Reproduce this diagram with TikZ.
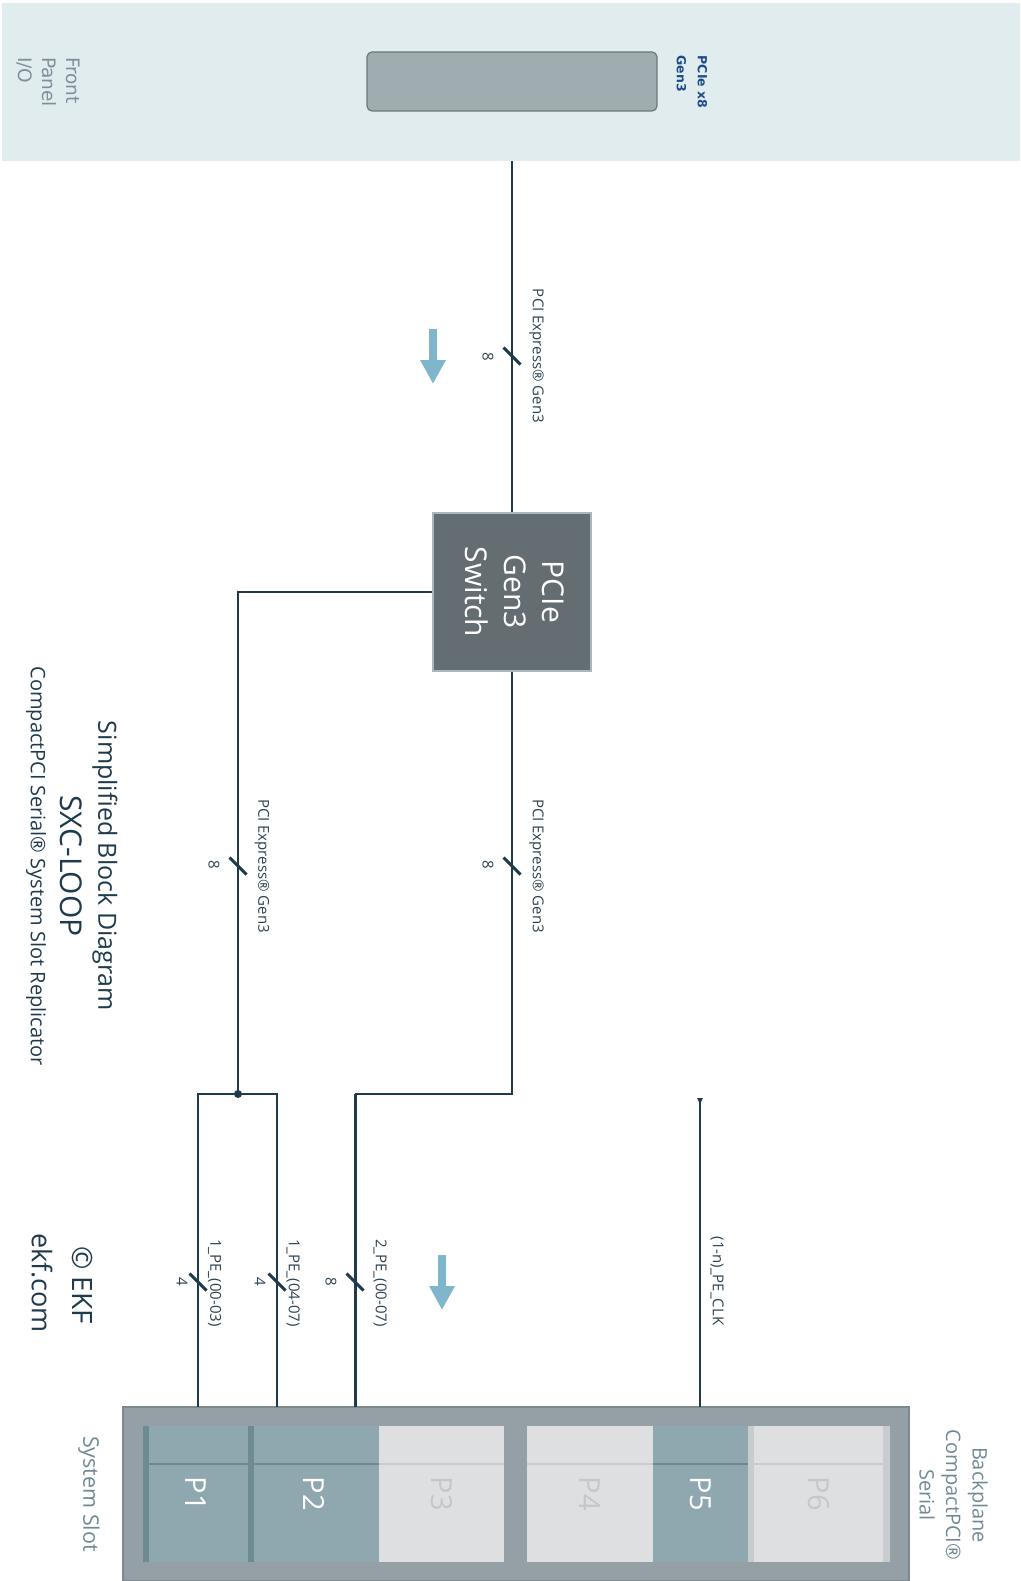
\documentclass[tikz,border=0pt]{standalone}
\usepackage{fontspec}
\setmainfont{Open Sans}
\newfontfamily\fpfont{DejaVu Sans}
\usetikzlibrary{calc,positioning,arrows.meta}
\definecolor{wire}{HTML}{1F3A4C}
\definecolor{fpbg}{HTML}{E1ECEF}
\definecolor{connfill}{HTML}{9FACB0}
\definecolor{conndraw}{HTML}{6F777A}
\definecolor{swfill}{HTML}{646E72}
\definecolor{swdraw}{HTML}{A9B6BC}
\definecolor{lbltext}{HTML}{2E4250}
\definecolor{flowblue}{HTML}{80B6CB}
\definecolor{bpfill}{HTML}{95A0A6}
\definecolor{bpdraw}{HTML}{7E898E}
\definecolor{slotteal}{HTML}{8FA8AF}
\definecolor{slotdark}{HTML}{6F8B92}
\definecolor{slotlight}{HTML}{DDDFE1}
\definecolor{slotline}{HTML}{C9CCCE}
\definecolor{slotgray}{HTML}{C5C8CB}
\definecolor{capgray}{HTML}{6F8A97}
\definecolor{fptext}{HTML}{7F9099}
\definecolor{pcieblue}{HTML}{1C4C8A}
\tikzset{
  vtxt/.style={rotate=-90,inner sep=0pt,text=lbltext,font=\fontsize{15}{17}\selectfont},
  bigtxt/.style={rotate=-90,inner sep=0pt,text=wire,font=\fontsize{#1}{#1}\selectfont},
  bus/.style={wire,line width=2.3pt},
  busthick/.style={wire,line width=3pt},
  sig/.style={wire,line width=1.3pt},
  slash/.style={wire,line width=3pt},
  flowarr/.style={-{Triangle[length=24pt,width=24pt]},flowblue,line width=8pt},
  slot/.style={minimum width=#1,minimum height=136pt,inner sep=0pt,font=\fontsize{29}{30}\selectfont},
}

\begin{document}
\begin{tikzpicture}[x=1pt,y=-1pt]
\useasboundingbox (0,0) rectangle (1020,1581);
% front panel
\node[fill=fpbg,minimum width=1018pt,minimum height=158pt,inner sep=0pt] (fp) at (511,82) {};
\node[fill=connfill,draw=conndraw,line width=1.2pt,rounded corners=5pt,minimum width=290pt,minimum height=59pt,inner sep=0pt] (conn) at (512,81.5) {};
\node[rotate=-90,align=left,inner sep=0pt,text=fptext,font=\fpfont\fontsize{18.5}{24}\selectfont] (fptxt) at (48,82) {Front\\Panel\\I/O};
\node[rotate=-90,align=left,inner sep=0pt,text=pcieblue,font=\fpfont\bfseries\fontsize{12.5}{21}\selectfont] (conntxt) at (692,82) {PCIe x8\\Gen3};

% switch
\node[fill=swfill,draw=swdraw,line width=1.2pt,minimum size=158pt,inner sep=0pt,text=white,font=\fontsize{30}{38.6}\selectfont] (sw) at (512,592)
  {\rotatebox{-90}{\begin{tabular}{@{}c@{}}PCIe\\Gen3\\Switch\end{tabular}}};

% backplane
\node[fill=bpfill,draw=bpdraw,line width=2pt,minimum width=786pt,minimum height=174pt,inner sep=0pt] (bp) at (516,1494) {};
\node[slot=105pt,fill=slotteal,text=white] (p1) at (195.5,1494) {\rotatebox{-90}{P1}};
\node[slot=131pt,fill=slotteal,text=white] (p2) at (313.5,1494) {\rotatebox{-90}{P2}};
\node[slot=125pt,fill=slotlight,text=slotgray] (p3) at (441.5,1494) {\rotatebox{-90}{P3}};
\node[slot=126pt,fill=slotlight,text=slotgray] (p4) at (590,1494) {\rotatebox{-90}{P4}};
\node[slot=95pt,fill=slotteal,text=white] (p5) at (700.5,1494) {\rotatebox{-90}{P5}};
\node[slot=142pt,fill=slotlight,text=slotgray] (p6) at (819,1494) {\rotatebox{-90}{P6}};
\fill[slotdark] (p1.north west) rectangle ++(6,136);
\fill[slotdark] (p2.north west) rectangle ++(6,136);
\fill[slotline] (p6.north west) rectangle ++(6,136);
\fill[slotline] (p6.north east) rectangle ++(-7,136);
\coordinate (dv) at (0,1464);
\foreach \s/\c in {p1/slotdark,p2/slotdark,p3/slotline,p4/slotline,p5/slotdark,p6/slotline}
  \draw[\c,line width=1.2pt] (\s.west |- dv) -- (\s.east |- dv);

% wires
\coordinate (j1) at (238,1094);
\coordinate (t1) at (198,1407);
\coordinate (t2) at (277,1407);
\coordinate (t3) at (355,1407);
\coordinate (clk) at (700,1098);
\coordinate (t5) at (700,1407);
\draw[bus] (fp.south -| sw.north) -- (sw.north);
\draw[bus] (sw.west) -| (j1);
\draw[bus] (sw.south) |- (t3 |- j1);
\draw[busthick] (t3 |- j1) -- (t3);
\draw[sig] (t1) |- (j1) -| (t2);
\fill[wire] (j1) circle (4pt);
\draw[sig,{Latex[reversed,length=8pt,width=6pt]}-] (clk) -- (t5);
\foreach \x/\y in {512/356,238/866,512/866,198/1282,277/1282,355/1282}
  \draw[slash] (\x-8.5,\y-8.5) -- (\x+8.5,\y+8.5);

% bus labels
\node[vtxt] (l1) at (536.5,356) {PCI Express® Gen3};
\node[vtxt] (n1) at (488,357) {8};
\node[vtxt] (l2) at (262,866) {PCI Express® Gen3};
\node[vtxt] (n2) at (214,865) {8};
\node[vtxt] (l3) at (536.5,866) {PCI Express® Gen3};
\node[vtxt] (n3) at (488,865) {8};
\node[vtxt] (l4) at (214.5,1283) {1\_PE\_(00-03)};
\node[vtxt] (n4) at (182,1282) {4};
\node[vtxt] (l5) at (293,1283) {1\_PE\_(04-07)};
\node[vtxt] (n5) at (260,1282) {4};
\node[vtxt] (l6) at (380,1283) {2\_PE\_(00-07)};
\node[vtxt] (n6) at (331,1282) {8};
\node[vtxt] (l7) at (717,1281) {(1-n)\_PE\_CLK};

% direction arrows
\draw[flowarr] (433,329) -- (433,384);
\draw[flowarr] (442,1255) -- (442,1310);

% captions
\node[rotate=-90,align=center,inner sep=0pt,text=capgray,font=\fontsize{20}{26.5}\selectfont] (bptxt) at (953.5,1495) {Backplane\\CompactPCI®\\Serial};
\node[rotate=-90,inner sep=0pt,text=capgray,font=\fontsize{21.5}{26}\selectfont] (sstxt) at (89,1494) {System Slot};
\node[bigtxt=25] (ttl) at (105,866) {Simplified Block Diagram};
\node[bigtxt=30] (mdl) at (71,866) {SXC-LOOP};
\node[bigtxt=20] (sub) at (36,866) {CompactPCI Serial® System Slot Replicator};
\node[bigtxt=28] (cpy) at (82,1285) {© EKF};
\node[bigtxt=27] (web) at (42,1283) {ekf.com};
\end{tikzpicture}
\end{document}
